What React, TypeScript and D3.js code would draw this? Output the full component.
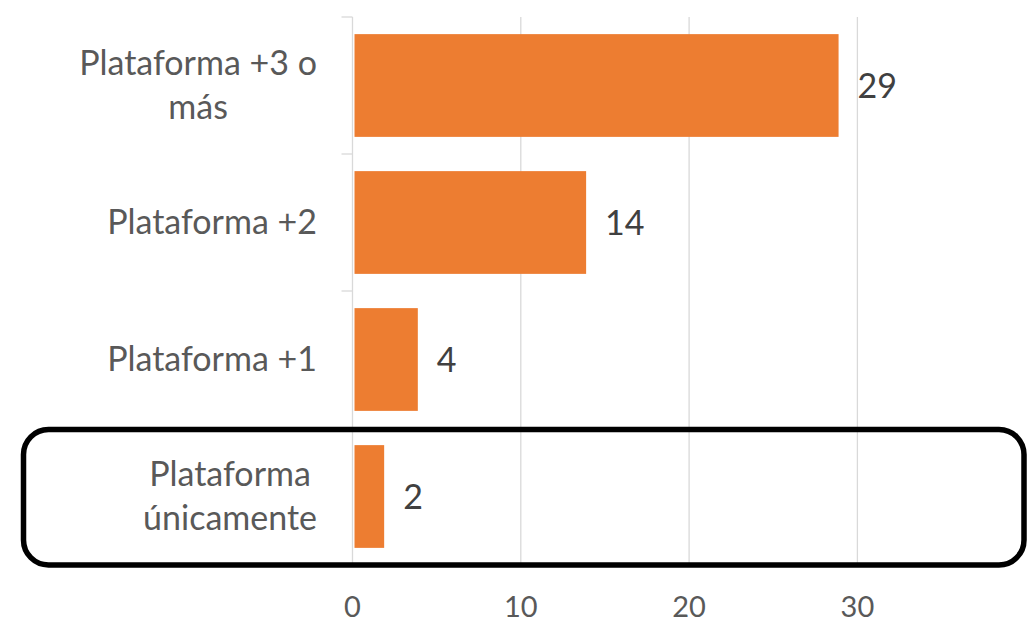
import React, { useEffect, useRef } from "react";
import * as d3 from "d3";

const categories: string[][] = [
  ["Plataforma +3 o", "más"],
  ["Plataforma +2"],
  ["Plataforma +1"],
  ["Plataforma", "únicamente"],
];
const values: number[] = [29, 14, 4, 2];
const xTicks: number[] = [0, 10, 20, 30];

const W = 1027;
const H = 620;
const FONT = "Lato, 'Open Sans', sans-serif";
const FS = 34;
const TICK_FS = 29;

export default function App() {
  const ref = useRef<SVGSVGElement>(null);
  useEffect(() => {
    const svg = d3.select(ref.current);
    svg.selectAll("*").remove();
    const left = 352.5;
    const x = d3.scaleLinear().domain([0, 40]).range([left, left + 40 * 16.83]);
    const keys = categories.map((c) => c.join(" "));
    const y = d3.scaleBand<string>().domain(keys).range([17, 565]).paddingInner(0.25).paddingOuter(0.125);
    const step = y.step();

    // gridlines
    svg.append("g").selectAll("line").data(xTicks.slice(1)).join("line")
      .attr("x1", (d) => x(d)).attr("x2", (d) => x(d))
      .attr("y1", 17).attr("y2", 565)
      .attr("stroke", "#d9d9d9").attr("stroke-width", 1.3);

    // category axis
    svg.append("line").attr("x1", left).attr("x2", left).attr("y1", 17).attr("y2", 565)
      .attr("stroke", "#d9d9d9").attr("stroke-width", 1.3);
    const tickYs = d3.range(categories.length + 1).map((i) => 17 + i * step);
    svg.append("g").selectAll("line").data(tickYs).join("line")
      .attr("x1", left - 11).attr("x2", left).attr("y1", (d) => d).attr("y2", (d) => d)
      .attr("stroke", "#d9d9d9").attr("stroke-width", 1.3);

    // bars
    svg.append("g").selectAll("rect").data(values).join("rect")
      .attr("x", x(0) + 2)
      .attr("y", (_, i) => y(keys[i]) as number)
      .attr("width", (d) => x(d) - x(0) - 4)
      .attr("height", y.bandwidth())
      .attr("fill", "#ED7D31");

    // value labels
    svg.append("g").selectAll("text").data(values).join("text")
      .attr("x", (d) => x(d) + 17)
      .attr("y", (_, i) => (y(keys[i]) as number) + y.bandwidth() / 2 + 12)
      .attr("font-family", FONT).attr("font-size", FS).attr("fill", "#404040")
      .text((d) => String(d));

    // x tick labels
    svg.append("g").selectAll("text").data(xTicks).join("text")
      .attr("x", (d) => x(d)).attr("y", 617)
      .attr("text-anchor", "middle")
      .attr("font-family", FONT).attr("font-size", TICK_FS).attr("fill", "#595959")
      .text((d) => String(d));

    // category labels
    const rightEdge = 317;
    const lineH = 44;
    categories.forEach((lines, i) => {
      const cy = (y(keys[i]) as number) + y.bandwidth() / 2;
      const g = svg.append("g");
      const texts = lines.map((ln, j) =>
        g.append("text")
          .attr("y", cy + (j - (lines.length - 1) / 2) * lineH + 11)
          .attr("text-anchor", "middle")
          .attr("font-family", FONT).attr("font-size", FS).attr("fill", "#595959")
          .text(ln)
      );
      const widths = texts.map((t) => (t.node() as SVGTextElement).getComputedTextLength());
      const maxW = Math.max(...widths);
      const cx = rightEdge - maxW / 2;
      texts.forEach((t) => t.attr("x", cx));
    });

    // highlight box
    svg.append("rect")
      .attr("x", 23.5).attr("y", 429.5).attr("width", 1000.5).attr("height", 135.5)
      .attr("rx", 25).attr("ry", 25)
      .attr("fill", "none").attr("stroke", "#000").attr("stroke-width", 5.5);
  }, []);
  return (
    <svg ref={ref} width={W} height={H}
      style={{ position: "absolute", left: 0, top: 0, background: "#fff" }} />
  );
}
